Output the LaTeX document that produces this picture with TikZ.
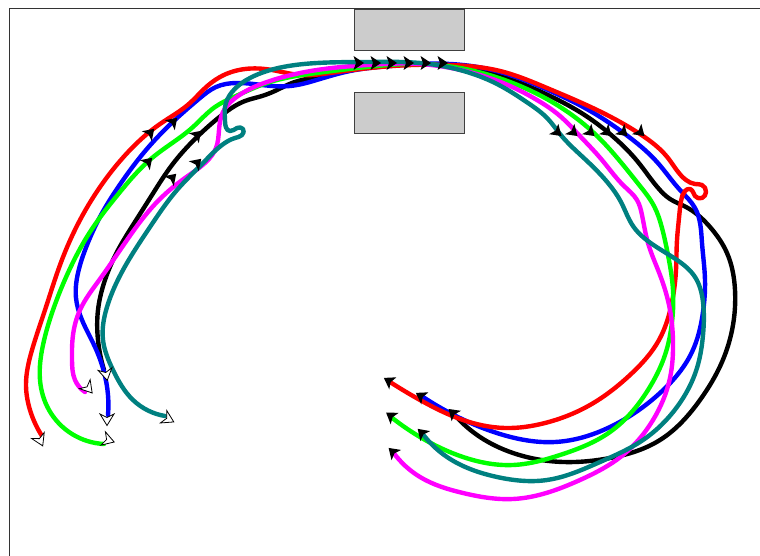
\documentclass[tikz,border=0pt]{standalone}
\usetikzlibrary{hobby}
\definecolor{trkred}{RGB}{255,0,0}
\definecolor{trkblue}{RGB}{0,0,255}
\definecolor{trkgreen}{RGB}{0,255,0}
\definecolor{trkmag}{RGB}{255,0,255}
\definecolor{trkteal}{RGB}{0,128,128}
\definecolor{plategray}{RGB}{204,204,204}
\tikzset{
  track/.style={line width=4.4pt, line cap=round, line join=round, use Hobby shortcut},
  plate/.style={fill=plategray, draw=black!75, line width=0.9pt},
  flowmark/.style={fill=black},
  startmark/.style={fill=white, draw=black, line width=0.8pt},
  pics/tipmark/.style={code={\path[#1] (6,0) -- (-4.5,7) -- (-2,0) -- (-4.5,-7) -- cycle;}},
  pics/tailmark/.style={code={\path[startmark] (6.5,0) -- (-5,7) -- (-1.5,0) -- (-5,-7) -- cycle;}},
}
\begin{document}
\begin{tikzpicture}[x=1pt,y=-1pt]
\useasboundingbox (0,0) rectangle (760,556);
% outer frame, open to the right and bottom
\begin{scope}
  \clip (0,0) rectangle (760,556);
  \draw[line width=1pt, draw=black!80] (9,9) rectangle (800,600);
\end{scope}
% the two plates of the slit
\draw[plate] (354,9) rectangle (464,50);
\draw[plate] (354,92) rectangle (464,133);

% trajectories
\draw[track, black] (104,370) .. (98,340) .. (98,310) .. (104,283) .. (117,252)
  .. (133,225) .. (152,195) .. (172,165) .. (197,137) .. (222,115) .. (245,101)
  .. (262,96) .. (277,90) .. (292,83) .. (317,77) .. (367,67) .. (420,64)
  .. (470,69) .. (512,80) .. (550,96) .. (583,114) .. (610,134) .. (638,162)
  .. (659,189) .. (670,199) .. (686,207) .. (710,227) .. (727,253) .. (735,290)
  .. (733,325) .. (722,362) .. (700,400) .. (660,440) .. (610,458) .. (563,462)
  .. (513,453) .. (480,437) .. (453,413);
\draw[track, trkblue] (108,415) .. (108,395) .. (104,372) .. (95,347) .. (82,320)
  .. (76,298) .. (78,273) .. (87,245) .. (101,215) .. (121,183) .. (146,150)
  .. (177,118) .. (200,98) .. (216,87) .. (236,83) .. (262,85) .. (290,86)
  .. (320,79) .. (350,71) .. (390,66) .. (450,64) .. (500,72) .. (548,90)
  .. (592,112) .. (625,134) .. (657,162) .. (680,190) .. (695,208) .. (702,243)
  .. (705,280) .. (703,312) .. (692,352) .. (660,393) .. (610,427) .. (555,442)
  .. (500,434) .. (450,413) .. (420,395);
\draw[track, trkred] (42,436) .. (30,410) .. (26,385) .. (32,350) .. (45,310)
  .. (60,265) .. (80,220) .. (105,180) .. (130,150) .. (160,124) .. (190,103)
  .. (203,90) .. (220,77) .. (245,69) .. (272,70) .. (300,75) .. (330,73)
  .. (380,67) .. (450,65) .. (500,71) .. (547,88) .. (597,110) .. (640,134)
  .. (668,158) .. (686,180) .. (695,184) .. (702,185) .. (706,192) .. (702,198)
  .. (695,196) .. (690,189) .. (685,191) .. (681,201) .. (679,218) .. (677,240)
  .. (676,270) .. (672,302) .. (659,340) .. (630,375) .. (590,405) .. (545,423)
  .. (505,428) .. (463,420) .. (420,400) .. (390,382);
\draw[track, trkgreen] (104,444) .. (72,434) .. (49,410) .. (40,380) .. (43,345)
  .. (53,310) .. (67,275) .. (90,232) .. (120,192) .. (152,158) .. (193,127)
  .. (215,107) .. (236,96) .. (267,83) .. (317,73) .. (367,67) .. (420,64)
  .. (470,70) .. (510,82) .. (545,98) .. (572,115) .. (595,134) .. (619,160)
  .. (640,186) .. (654,206) .. (662,228) .. (668,255) .. (673,290) .. (672,322)
  .. (665,355) .. (648,390) .. (610,432) .. (560,455) .. (513,465) .. (463,457)
  .. (420,437) .. (391,417);
\draw[track, trkmag] (85,392) .. (75,380) .. (72,360) .. (73,335) .. (80,310)
  .. (100,279) .. (127,240) .. (157,202) .. (185,178) .. (206,162) .. (216,148)
  .. (219,130) .. (223,112) .. (234,99) .. (267,82) .. (317,70) .. (367,65)
  .. (420,64) .. (465,71) .. (503,83) .. (537,100) .. (560,116) .. (578,134)
  .. (602,160) .. (624,186) .. (637,200) .. (642,215) .. (648,243) .. (660,275)
  .. (670,310) .. (673,342) .. (670,378) .. (653,420) .. (623,455) .. (580,480)
  .. (513,499) .. (463,493) .. (420,477) .. (393,452);
\draw[track, trkteal] (165,416) .. (133,400) .. (113,370) .. (103,340) .. (107,307)
  .. (123,270) .. (150,227) .. (177,190) .. (203,163) .. (222,145) .. (235,138)
  .. (242,135) .. (243,129) .. (237,128) .. (230,131) .. (225,121) .. (225,107)
  .. (232,92) .. (250,78) .. (283,67) .. (317,63) .. (367,62) .. (420,63)
  .. (460,70) .. (497,84) .. (528,103) .. (548,119) .. (560,134) .. (587,161)
  .. (608,183) .. (621,202) .. (633,226) .. (652,244) .. (677,260) .. (695,277)
  .. (703,302) .. (703,335) .. (697,368) .. (677,407) .. (643,440) .. (600,462)
  .. (547,480) .. (497,477) .. (447,457) .. (422,433);

% direction marks through the slit
\foreach \x in {358,375,391,408,425,442}
  \pic at (\x,63) {tipmark=flowmark};
% direction marks on the right-hand bend
\foreach \x in {557,573,590,607,623,640}
  \pic[rotate=-42] at (\x,132) {tipmark=flowmark};
% direction marks on the left-hand rise
\foreach \p in {(150,133),(173,122),(197,135),(148,162),(172,178),(197,163)}
  \pic[rotate=45] at \p {tipmark=flowmark};

% start marks
\pic[rotate=-65] at (40,440) {tailmark};
\pic[rotate=-90] at (107,419) {tailmark};
\pic[rotate=-18] at (108,440) {tailmark};
\pic[rotate=-79] at (106,374) {tailmark};
\pic[rotate=-50] at (88,388) {tailmark};
\pic[rotate=-27] at (168,419) {tailmark};

% end marks
\pic[rotate=149] at (389,381) {tipmark=flowmark};
\pic[rotate=149] at (421,396) {tipmark=flowmark};
\pic[rotate=145] at (391,416) {tipmark=flowmark};
\pic[rotate=138] at (453,413) {tipmark=flowmark};
\pic[rotate=137] at (393,452) {tipmark=flowmark};
\pic[rotate=136] at (422,433) {tipmark=flowmark};
\end{tikzpicture}
\end{document}
